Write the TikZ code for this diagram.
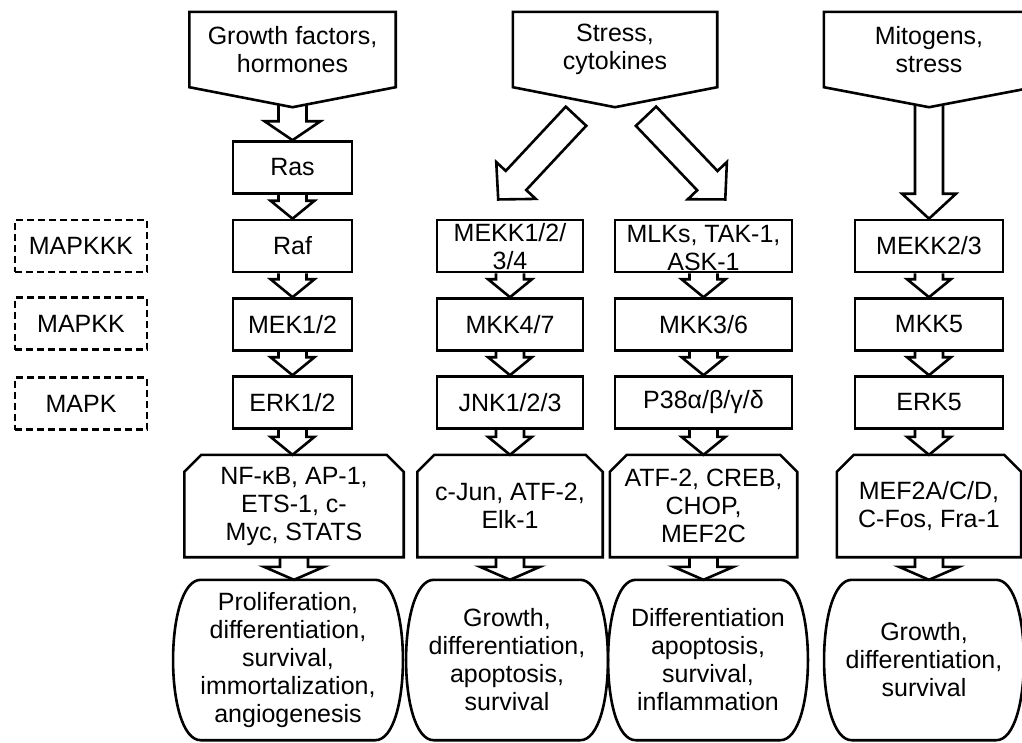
\documentclass[tikz,border=0pt]{standalone}
\usepackage{fontspec}
\setmainfont{Liberation Sans}
\usetikzlibrary{calc}

\tikzset{
  outline/.style={draw, line width=2.6pt},
  mapbox/.style={draw, line width=2.6pt, dash pattern=on 7pt off 4pt,
    minimum width=132, minimum height=52, inner sep=0pt},
}

\newcommand{\fatarrow}[5][]{%
  \draw[outline] let \p1=($(#3)-(#2)$), \n1={veclen(\x1,\y1)}, \n2={atan2(\y1,\x1)} in
    [shift={(#2)}, rotate=\n2] (0,-14) -- (\n1-#4,-14) -- (\n1-#4,-#5) -- (\n1,0)
    -- (\n1-#4,#5) -- (\n1-#4,14) -- (0,14) #1;}

\begin{document}
\begin{tikzpicture}[x=1pt, y=-1pt, font=\fontsize{25}{28}\selectfont]

        \fill[white] (0,0) rectangle (1022,742);
        \useasboundingbox (0,0) rectangle (1022,742);

        \begin{scope}[every node/.style={align=center, inner sep=0pt, minimum height=75}]
          \node[minimum width=206] (gf) at (292.5,49.5) {Growth factors,\\hormones};
          \node[minimum width=204] (sc) at (615,49.5)   {Stress,\\cytokines};
          \node[minimum width=210] (ms) at (929,49.5)   {Mitogens,\\stress};
        \end{scope}

        \node[mapbox] (mapkkk) at (81,246)   {MAPKKK};
        \node[mapbox] (mapkk)  at (81,323.5) {MAPKK};
        \node[mapbox] (mapk)   at (81,403.5) {MAPK};

        \begin{scope}[every node/.style={outline, inner sep=0pt, minimum height=52}]
          \node[minimum width=119] (ras)    at (292.5,167.5) {Ras};
          \node[minimum width=119] (raf)    at (292.5,246)   {Raf};
          \node[minimum width=119] (mek)    at (292.5,324.5) {MEK1/2};
          \node[minimum width=119] (erk)    at (292.5,402.5) {ERK1/2};
          \node[minimum width=146] (mekk)   at (510,246)
            {\raisebox{5pt}[0pt][0pt]{\begin{tabular}[t]{@{}c@{}}MEKK1/2/\\3/4\end{tabular}}};
          \node[minimum width=146] (mkk47)  at (510,324.5)   {MKK4/7};
          \node[minimum width=146] (jnk)    at (510,402.5)   {JNK1/2/3};
          \node[minimum width=177] (mlk)    at (703.5,246)
            {\raisebox{4pt}[0pt][0pt]{\begin{tabular}[t]{@{}c@{}}MLKs, TAK-1,\\ASK-1\end{tabular}}};
          \node[minimum width=177] (mkk36)  at (703.5,324.5) {MKK3/6};
          \node[minimum width=177] (p38)    at (703.5,402.5) {P38α/β/γ/δ};
          \node[minimum width=148] (mekk23) at (929,246)     {MEKK2/3};
          \node[minimum width=148] (mkk5)   at (929,324.5)   {MKK5};
          \node[minimum width=148] (erk5)   at (929,402.5)   {ERK5};
        \end{scope}

        \begin{scope}[every node/.style={align=center, inner sep=0pt, minimum height=102}]
          \node[minimum width=219] (nfkb) at (294,506)   {NF-κB, AP-1,\\ETS-1, c-\\Myc, STATS};
          \node[minimum width=185] (cjun) at (510,506)   {c-Jun, ATF-2,\\Elk-1};
          \node[minimum width=187] (atf)  at (703.5,506) {ATF-2, CREB,\\CHOP,\\MEF2C};
          \node[minimum width=184] (mef)  at (929,506)   {MEF2A/C/D,\\C-Fos, Fra-1};
        \end{scope}

        \begin{scope}[every node/.style={align=center, inner sep=0pt, minimum height=160}]
          \node[minimum width=230] (fate1) at (288,660)
            {Proliferation,\\differentiation,\\survival,\\immortalization,\\angiogenesis};
          \node[minimum width=202] (fate2) at (507,660) {Growth,\\differentiation,\\apoptosis,\\survival};
          \node[minimum width=200] (fate3) at (708,660) {Differentiation\\apoptosis,\\survival,\\inflammation};
          \node[minimum width=200] (fate4) at (924,660) {Growth,\\differentiation,\\survival};
        \end{scope}

        \foreach \n in {gf,sc,ms} {
          \draw[outline] (\n.north west) -- (\n.north east) -- (\n.south east)
            -- ($(\n.south)+(0,20)$) -- (\n.south west) -- cycle;
          \coordinate (\n-out) at ($(\n.south)+(0,17)$);
        }

        \foreach \n in {nfkb,cjun,atf,mef}
          \draw[outline] ($(\n.north west)+(0,17)$) -- ($(\n.north west)+(17,0)$)
            -- ($(\n.north east)+(-17,0)$) -- ($(\n.north east)+(0,17)$)
            -- (\n.south east) -- (\n.south west) -- cycle;

        \foreach \n in {fate1,fate2,fate3,fate4}
          \draw[outline] ($(\n.north west)+(28,0)$) -- ($(\n.north east)+(-28,0)$)
            .. controls ($(\n.north east)+(9,0)$) and ($(\n.south east)+(9,0)$) .. ($(\n.south east)+(-28,0)$)
            -- ($(\n.south west)+(28,0)$)
            .. controls ($(\n.south west)+(-9,0)$) and ($(\n.north west)+(-9,0)$) .. cycle;

        \coordinate (sc-left)  at ($(sc.south)+(-39,29)$);
        \coordinate (sc-right) at ($(sc.south)+(31,29)$);
        \coordinate (mekk-in)  at ($(mekk.north)+(-12,-19)$);
        \coordinate (mlk-in)   at ($(mlk.north)+(22,-19)$);

        \fatarrow{gf-out}{ras.north}{19}{28}
        \fatarrow{ms-out}{mekk23.north}{25}{27}
        \fatarrow[-- cycle]{sc-left}{mekk-in}{26}{27}
        \fatarrow[-- cycle]{sc-right}{mlk-in}{26}{27}

        \foreach \a/\b in {ras/raf,raf/mek,mek/erk,erk/nfkb,mekk/mkk47,mkk47/jnk,jnk/cjun,
                           mlk/mkk36,mkk36/p38,p38/atf,mekk23/mkk5,mkk5/erk5,erk5/mef}
          {\fatarrow{\a.south}{\a.south |- \b.north}{18}{22}}

        \foreach \a/\b in {nfkb/fate1,cjun/fate2,atf/fate3,mef/fate4}
          {\fatarrow{\a.south}{\a.south |- \b.north}{13}{30}}

      \end{tikzpicture}
\end{document}
